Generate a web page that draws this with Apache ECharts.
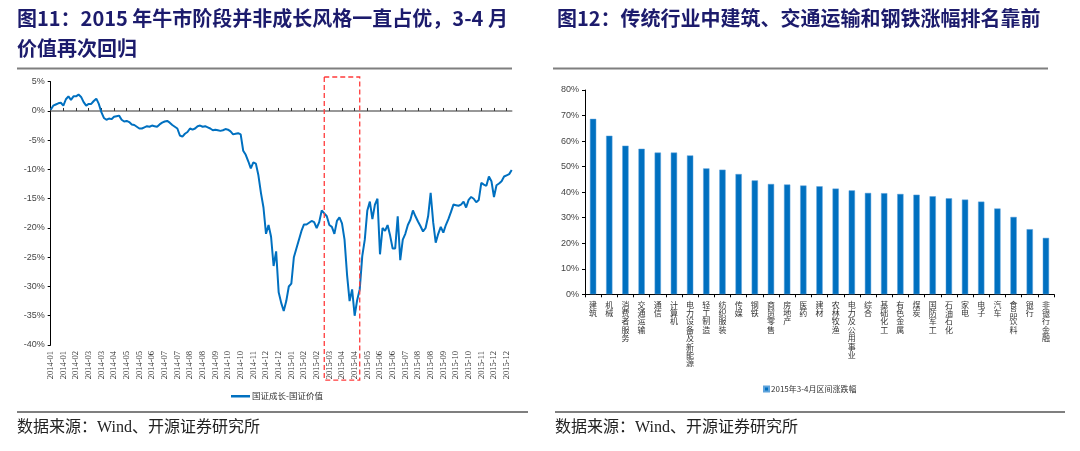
<!DOCTYPE html>
<html><head><meta charset="utf-8">
<script src="https://cdn.jsdelivr.net/npm/echarts@6/dist/echarts.min.js"></script>
<style>html,body{margin:0;padding:0;background:#fff}#c{width:1080px;height:451px}</style>
</head><body><div id="c"></div>
<script>
// ---- Chart 11 data ----
const tickLabels = ['2014-01','2014-01','2014-02','2014-03','2014-03','2014-04','2014-05','2014-05','2014-06','2014-07','2014-07','2014-08','2014-08','2014-09','2014-10','2014-10','2014-11','2014-12','2014-12','2015-01','2015-02','2015-02','2015-03','2015-04','2015-04','2015-05','2015-06','2015-06','2015-07','2015-08','2015-08','2015-09','2015-10','2015-10','2015-11','2015-12','2015-12'];
const pointsPerTick = 5;
const growthMinusValue = [
 0.2, 0.9, 1.1, 1.3, 1.4, 0.9, 2.0, 2.5, 1.9, 2.5,
 2.5, 2.8, 2.4, 1.5, 0.9, 1.2, 1.2, 1.7, 2.1, 1.2,
 -0.2, -1.2, -1.5, -1.3, -1.4, -1.0, -0.9, -0.8, -1.5, -1.8,
 -1.7, -1.9, -2.3, -2.4, -2.7, -3.0, -3.0, -2.8, -2.6, -2.7,
 -2.5, -2.6, -2.7, -2.3, -2.0, -1.8, -1.7, -2.0, -2.4, -2.7,
 -3.0, -4.2, -4.4, -3.9, -3.6, -3.0, -3.2, -3.0, -2.6, -2.5,
 -2.7, -2.6, -2.8, -3.0, -3.3, -3.2, -3.3, -3.4, -3.3, -3.1,
 -3.2, -3.5, -4.0, -3.9, -3.8, -4.0, -6.8, -7.5, -8.6, -9.8,
 -8.8, -9.0, -11.0, -14.0, -16.5, -21.0, -19.5, -21.5, -26.5, -24.0,
 -31.0, -32.8, -34.2, -32.5, -30.0, -29.5, -25.0, -23.5, -22.0, -20.5,
 -19.4, -19.4, -19.1, -18.8, -19.0, -20.0, -19.0, -17.0, -17.5, -18.0,
 -19.5, -19.8, -21.0, -18.8, -18.2, -19.2, -22.0, -28.0, -32.5, -30.5,
 -35.0, -32.3, -30.5, -24.8, -22.0, -17.0, -15.5, -18.5, -16.0, -15.0,
 -24.5, -20.0, -20.5, -19.5, -21.3, -23.5, -23.5, -18.0, -25.5, -22.0,
 -21.0, -19.5, -18.6, -17.0, -18.0, -18.9, -19.7, -20.6, -20.0, -18.0,
 -14.0, -19.0, -22.5, -21.0, -19.8, -20.8, -19.5, -18.5, -17.3, -16.0,
 -16.1, -16.2, -16.0, -15.5, -16.5, -15.2, -14.7, -15.0, -15.6, -15.2,
 -12.3, -12.6, -12.8, -11.2, -12.0, -14.7, -12.7, -12.4, -12.0, -11.2,
 -11.0, -10.8, -10.1
];
const lineName = '国证成长-国证价值';
// highlighted window (category index range)
const highlightFrom = 108, highlightTo = 122;

// ---- Chart 12 data ----
const industries = ['建筑','机械','消费者服务','交通运输','通信','计算机','电力设备及新能源','轻工制造','纺织服装','传媒','钢铁','商贸零售','房地产','医药','建材','农林牧渔','电力及公用事业','综合','基础化工','有色金属','煤炭','国防军工','石油石化','家电','电子','汽车','食品饮料','银行','非银行金融'];
const changeMarApr2015 = [68.7, 62.1, 58.2, 57.0, 55.5, 55.5, 54.4, 49.3, 48.8, 47.1, 44.6, 43.2, 43.0, 42.6, 42.3, 41.4, 40.7, 39.7, 39.6, 39.3, 39.0, 38.4, 37.6, 37.1, 36.3, 33.6, 30.3, 25.5, 22.1];
const barName = '2015年3-4月区间涨跌幅';

const title1a = '图11：2015 年牛市阶段并非成长风格一直占优，3-4 月';
const title1b = '价值再次回归';
const title2 = '图12：传统行业中建筑、交通运输和钢铁涨幅排名靠前';
const source = '数据来源：Wind、开源证券研究所';

const cats = growthMinusValue.map((v, i) => String(i));
const blue = '#0070C0';
const cjk = '"Noto Sans CJK SC", sans-serif';
const titleStyle = {fontFamily: cjk, fontSize: 20, fontWeight: 'bold', color: '#1c1b6c'};
const srcStyle = {fontFamily: '"Liberation Serif", "Noto Sans CJK SC", serif', fontSize: 16, fontWeight: 'normal', color: '#222'};

const chart = echarts.init(document.getElementById('c'), null, {renderer: 'canvas'});
chart.setOption({
  animation: false,
  backgroundColor: '#fff',
  title: [
    {text: title1a, left: 17, top: 8, padding: 0, textStyle: titleStyle},
    {text: title1b, left: 17, top: 38, padding: 0, textStyle: titleStyle},
    {text: title2, left: 557, top: 8, padding: 0, textStyle: titleStyle},
    {text: source, left: 17, top: 420, padding: 0, textStyle: srcStyle},
    {text: source, left: 555, top: 420, padding: 0, textStyle: srcStyle}
  ],
  legend: [
    {data: [lineName], left: 226, top: 387, icon: 'rect', itemWidth: 19, itemHeight: 2.5, itemGap: 2,
     textStyle: {fontFamily: cjk, fontSize: 8.5, color: '#333', padding: [0,0,0,-3]}},
    {data: [barName], left: 758, top: 380, icon: 'rect', itemWidth: 5, itemHeight: 5,
     textStyle: {fontFamily: cjk, fontSize: 8, color: '#333', padding: [0,0,0,-3]}}
  ],
  grid: [
    {left: 50.7, top: 81.7, width: 461, height: 263.3},
    {left: 585, top: 90, width: 469, height: 204.3}
  ],
  xAxis: [
    {gridIndex: 0, type: 'category', data: cats, boundaryGap: false,
     axisLine: {show: false, onZero: false}, axisTick: {show: false},
     axisLabel: {interval: pointsPerTick - 1, rotate: 90, margin: 6, fontSize: 8.5,
       fontFamily: '"Liberation Serif", serif', color: '#333',
       formatter: (v, idx) => tickLabels[Math.floor(idx / pointsPerTick)]}},
    {gridIndex: 0, type: 'category', data: cats, boundaryGap: false, position: 'bottom',
     axisLine: {show: true, onZero: true, lineStyle: {color: '#777', width: 1.6}},
     axisTick: {show: true, inside: true, interval: pointsPerTick - 1, length: 3, lineStyle: {color: '#333'}},
     axisLabel: {show: false}},
    {gridIndex: 1, type: 'category', data: industries,
     axisLine: {lineStyle: {color: '#000', width: 1}},
     axisTick: {show: true, length: 3, lineStyle: {color: '#000'}},
     axisLabel: {interval: 0, rotate: 0, margin: 6, fontSize: 8, lineHeight: 8.4, fontFamily: cjk, color: '#333',
       align: 'center', verticalAlign: 'top', formatter: v => v.split('').join('\n')}}
  ],
  yAxis: [
    {gridIndex: 0, type: 'value', min: -40, max: 5, interval: 5,
     axisLine: {show: true, onZero: false, lineStyle: {color: '#000', width: 1}},
     axisTick: {show: true, length: 3, lineStyle: {color: '#000'}},
     splitLine: {show: false},
     axisLabel: {formatter: '{value}%', fontSize: 9, margin: 6, color: '#444', fontFamily: '"Liberation Sans", sans-serif'}},
    {gridIndex: 1, type: 'value', min: 0, max: 80, interval: 10,
     axisLine: {show: true, lineStyle: {color: '#000', width: 1}},
     axisTick: {show: true, length: 3, lineStyle: {color: '#000'}},
     splitLine: {show: false},
     axisLabel: {formatter: '{value}%', fontSize: 9, margin: 6, color: '#444', fontFamily: '"Liberation Sans", sans-serif'}}
  ],
  series: [
    {name: lineName, type: 'line', xAxisIndex: 0, yAxisIndex: 0, data: growthMinusValue,
     symbol: 'none', lineStyle: {color: blue, width: 2}, itemStyle: {color: blue}},
    {name: barName, type: 'bar', xAxisIndex: 2, yAxisIndex: 1, data: changeMarApr2015,
     barWidth: 6.3, itemStyle: {color: blue, borderColor: '#5ea3dc', borderWidth: 0.5}}
  ]
});

// decorative rules and highlight box, positioned from the chart's own scales
const p1 = chart.convertToPixel({xAxisIndex: 0, yAxisIndex: 0}, [highlightFrom, 5.8]);
const p2 = chart.convertToPixel({xAxisIndex: 0, yAxisIndex: 0}, [highlightTo, -46]);
chart.setOption({
  graphic: [
    {type: 'line', shape: {x1: 17, y1: 68.5, x2: 512, y2: 68.5}, style: {stroke: '#7f7f7f', lineWidth: 2}},
    {type: 'line', shape: {x1: 553, y1: 68.5, x2: 1048, y2: 68.5}, style: {stroke: '#7f7f7f', lineWidth: 2}},
    {type: 'line', shape: {x1: 17, y1: 412, x2: 528, y2: 412}, style: {stroke: '#7f7f7f', lineWidth: 2}},
    {type: 'line', shape: {x1: 555, y1: 412, x2: 1065, y2: 412}, style: {stroke: '#7f7f7f', lineWidth: 2}},
    {type: 'rect', shape: {x: p1[0], y: p1[1], width: p2[0] - p1[0], height: p2[1] - p1[1]},
     style: {fill: 'none', stroke: '#ff3b3b', lineWidth: 1.3, lineDash: [5, 3]}, z: 100}
  ]
});
</script></body></html>
